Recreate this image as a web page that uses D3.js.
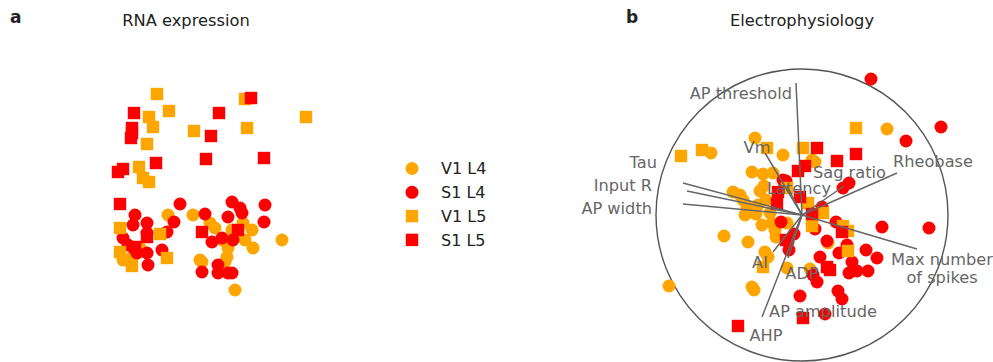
<!DOCTYPE html>
<html>
<head>
<meta charset="utf-8">
<script src="https://cdn.jsdelivr.net/npm/d3@7"></script>
<style>
  body { margin: 0; background: #fff; }
  svg { font-family: "DejaVu Sans", sans-serif; }
</style>
</head>
<body>
<div id="chart"></div>
<script>
'use strict'

// groups, in drawing order
const groups = ['V1 L4', 'S1 L4', 'V1 L5', 'S1 L5']
const groupColor = ['#ffa500', '#ff0000', '#ffa500', '#ff0000']
const groupShape = ['circle', 'circle', 'square', 'square']

// panel a: RNA expression embedding, [x, y]
const rnaV1L4 = [[-3.2, -2.5], [-7.7, -7.0], [-6.8, -6.7], [-0.7, -2.5], [1.0, -3.3], [8.2, -5.0],
  [5.2, -4.0], [5.3, -5.8], [0.0, -7.0], [3.5, -10.0], [2.7, -6.7], [2.8, -5.8], [2.5, -7.2],
  [4.5, -5.0], [4.3, -3.3], [3.2, -4.0], [2.2, -5.0], [3.6, -4.2], [-7.0, -7.2], [-6.0, -5.8],
  [1.5, -3.8], [0.2, -7.2]]
const rnaS1L4 = [[-2.0, -1.4], [-6.5, -2.5], [-2.6, -3.2], [-6.7, -3.5], [-5.3, -3.3], [-5.3, -4.3],
  [-3.3, -4.2], [-3.8, -6.0], [-5.3, -6.3], [-5.2, -7.5], [-7.2, -5.5], [-6.3, -6.3], [-7.7, -4.8],
  [3.2, -1.2], [4.0, -1.8], [4.2, -2.3], [6.5, -1.5], [6.4, -3.2], [0.5, -2.4], [2.8, -2.7],
  [1.2, -5.2], [2.2, -4.8], [3.3, -5.0], [0.2, -8.2], [1.8, -7.5], [1.8, -8.3], [3.2, -8.3], [2.8, -8.3]]
const rnaV1L5 = [[-4.3, 9.6], [-5.1, 7.3], [-4.7, 6.3], [-3.1, 7.9], [-5.3, 4.6], [-0.6, 5.9],
  [4.5, 9.1], [4.7, 6.2], [10.6, 7.3], [-6.1, 2.3], [-5.7, 1.2], [-5.1, 0.8], [-8.0, -3.8],
  [-8.0, -6.2], [-4.0, -4.4], [-3.3, -6.8], [-6.8, -7.6]]
const rnaS1L5 = [[-6.6, 7.7], [-6.8, 6.2], [-6.8, 5.7], [-6.9, 5.2], [-4.4, 2.7], [1.9, 7.7],
  [1.1, 5.4], [0.6, 3.1], [5.1, 9.2], [6.4, 3.2], [-7.7, 2.1], [-8.2, 1.8], [-8.0, -1.4],
  [-5.3, -4.7], [-6.5, -5.7], [0.2, -4.2], [3.8, -4.0]]

// panel b: electrophysiology biplot scores, [x, y]
const ephysV1L4 = [[-4.7, 7.7], [-1.9, 6.0], [-9.1, 6.2], [-5.0, 4.3], [-3.9, 4.1], [-2.9, 4.2],
  [-6.9, 2.3], [-5.9, 1.5], [-5.5, 0.8], [-4.6, 0.1], [-5.2, 0.3], [-4.2, 2.4], [-3.8, 2.9],
  [-3.2, 0.2], [-3.0, -0.8], [-1.5, -0.8], [-7.8, -2.1], [-5.4, -2.7], [-2.6, -2.2], [-3.7, -3.7],
  [-3.4, -4.2], [-1.5, -5.3], [-5.0, -7.2], [-4.8, -7.5], [-13.3, -7.1], [0.8, -5.4], [8.5, 8.6],
  [1.3, 5.3], [1.0, 5.5], [2.6, -2.8], [-3.6, 1.5], [-6.2, 2.0], [-4.4, 1.0], [-2.7, -1.5],
  [-4.0, -1.0], [-5.7, 0.0]]
const ephysS1L4 = [[6.9, 13.6], [13.9, 8.8], [10.4, 7.4], [4.7, 3.2], [4.1, 2.7], [-1.6, 3.4],
  [-2.1, -0.7], [2.0, 0.8], [1.3, -1.4], [3.4, -0.7], [8.0, -1.2], [12.7, -1.3], [-0.8, -1.9],
  [-1.4, -2.7], [-1.3, -3.5], [2.5, -2.6], [3.7, -3.8], [4.5, -3.0], [6.4, -3.5], [7.5, -4.3],
  [5.0, -4.7], [4.7, -5.8], [5.5, -5.6], [6.6, -5.6], [1.8, -4.2], [1.5, -6.7], [3.6, -7.6],
  [4.0, -8.4], [-0.2, -8.1], [2.3, -9.9], [1.1, -6.0], [-1.9, 3.5]]
const ephysV1L5 = [[-12.1, 5.9], [-10.0, 6.5], [-3.5, 6.7], [0.1, 6.7], [5.4, 8.7], [0.6, 1.2],
  [2.1, 0.2], [1.0, -1.1], [4.1, -1.1], [4.6, -1.6], [4.6, -3.6], [-3.9, -5.2], [-1.5, 2.7], [1.0, -0.5]]
const ephysS1L5 = [[1.5, 6.7], [3.5, 5.4], [5.4, 6.1], [0.3, 4.9], [-0.4, 4.4], [-2.4, 2.3],
  [-2.5, 1.1], [-0.2, 1.8], [1.0, 0.1], [4.0, -1.7], [2.5, -5.2], [-6.4, -11.1], [0.1, -10.3],
  [-1.6, -2.5], [2.8, -5.5]]

// feature loadings and where their labels sit
const features = ['AP threshold', 'Vm', 'Latency', 'Sag ratio', 'Rheobase', 'Tau', 'Input R',
  'AP width', 'Max number\nof spikes', 'AI', 'ADP', 'AP amplitude', 'AHP']
const loadings = [[-0.6, 13.2], [-3.7, 6.2], [-1.5, 2.9], [4.2, 2.9], [9.5, 4.2], [-11.9, 3.2],
  [-11.5, 2.4], [-11.9, 1.1], [11.5, -3.4], [-2.9, -3.7], [-1.4, -4.3], [-4.0, -10.2], [-1.0, -2.5]]
const labelPos = [[-1.0, 12.2], [-4.5, 6.8], [-3.5, 2.7], [1.1, 4.3], [9.1, 5.4], [-14.5, 5.3],
  [-15.0, 3.0], [-15.0, 0.7], [14.0, -5.3], [-4.2, -4.7], [0.0, -5.8], [2.1, -9.6], [-3.6, -12.0]]
const labelAnchor = ['end', 'middle', 'start', 'start', 'start', 'end', 'end', 'end',
  'middle', 'middle', 'middle', 'middle', 'middle']
const circleRadius = 14.6

const width = 993
const height = 362

const svg = d3.select('#chart').append('svg')
  .attr('width', width)
  .attr('height', height)

const xA = d3.scaleLinear().domain([-10, 10]).range([100, 300])
const yA = d3.scaleLinear().domain([-10, 10]).range([290, 90])
const xB = d3.scaleLinear().domain([-10, 10]).range([702, 902])
const yB = d3.scaleLinear().domain([-10, 10]).range([315, 115])

const r = 6.5
const side = 12.4

function drawPoints (g, sets, x, y) {
  sets.forEach(function (pts, i) {
    const sel = g.append('g').selectAll('.pt').data(pts).enter()
    if (groupShape[i] === 'circle') {
      sel.append('circle')
        .attr('cx', d => x(d[0]))
        .attr('cy', d => y(d[1]))
        .attr('r', r)
        .style('fill', groupColor[i])
    } else {
      sel.append('rect')
        .attr('x', d => x(d[0]) - side / 2)
        .attr('y', d => y(d[1]) - side / 2)
        .attr('width', side)
        .attr('height', side)
        .style('fill', groupColor[i])
    }
  })
}

// panel a
const gA = svg.append('g')
drawPoints(gA, [rnaV1L4, rnaS1L4, rnaV1L5, rnaS1L5], xA, yA)

// panel b
const gB = svg.append('g')
gB.append('circle')
  .attr('cx', xB(0))
  .attr('cy', yB(0))
  .attr('r', xB(circleRadius) - xB(0))
  .style('fill', 'none')
  .style('stroke', '#555')
  .style('stroke-width', 1.4)

drawPoints(gB, [ephysV1L4, ephysS1L4, ephysV1L5, ephysS1L5], xB, yB)

gB.append('g').selectAll('line')
  .data(loadings)
  .enter()
  .append('line')
    .attr('x1', xB(0))
    .attr('y1', yB(0))
    .attr('x2', d => xB(d[0]))
    .attr('y2', d => yB(d[1]))
    .style('stroke', '#666')
    .style('stroke-width', 1.5)

const labels = gB.append('g').selectAll('text')
  .data(features)
  .enter()
  .append('text')
    .attr('x', (d, i) => xB(labelPos[i][0]))
    .attr('y', (d, i) => yB(labelPos[i][1]))
    .attr('text-anchor', (d, i) => labelAnchor[i])
    .style('font-size', '16.2px')
    .style('fill', '#666')

labels.each(function (d) {
  const lines = d.split('\n')
  const t = d3.select(this)
  lines.forEach(function (line, k) {
    t.append('tspan')
      .attr('x', t.attr('x'))
      .attr('dy', k === 0 ? (0.35 - (lines.length - 1) * 0.55) + 'em' : '1.1em')
      .text(line)
  })
})

// titles and panel letters
svg.append('text')
  .attr('x', 186).attr('y', 26)
  .attr('text-anchor', 'middle')
  .style('font-size', '16.3px')
  .style('fill', '#222')
  .text('RNA expression')
svg.append('text')
  .attr('x', 802).attr('y', 26)
  .attr('text-anchor', 'middle')
  .style('font-size', '16.3px')
  .style('fill', '#222')
  .text('Electrophysiology')
svg.append('text')
  .attr('x', 10).attr('y', 23)
  .style('font-size', '17px')
  .style('font-weight', 'bold')
  .style('fill', '#222')
  .text('a')
svg.append('text')
  .attr('x', 626).attr('y', 23)
  .style('font-size', '17px')
  .style('font-weight', 'bold')
  .style('fill', '#222')
  .text('b')

// legend
const legend = svg.append('g')
  .selectAll('.leg')
  .data(groups)
  .enter()
  .append('g')
    .attr('transform', (d, i) => `translate(412,${168.5 + i * 23.8})`)

legend.each(function (d, i) {
  const g = d3.select(this)
  if (groupShape[i] === 'circle') {
    g.append('circle').attr('r', r).style('fill', groupColor[i])
  } else {
    g.append('rect')
      .attr('x', -side / 2).attr('y', -side / 2)
      .attr('width', side).attr('height', side)
      .style('fill', groupColor[i])
  }
  g.append('text')
    .attr('x', 29)
    .attr('y', 0)
    .attr('dy', '0.36em')
    .style('font-size', '16px')
    .style('fill', '#222')
    .text(d)
})
</script>
</body>
</html>
